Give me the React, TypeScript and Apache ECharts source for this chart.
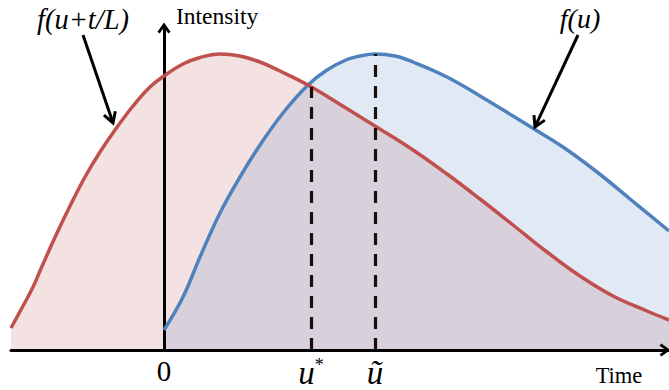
import React, { useEffect, useRef } from "react";
import * as echarts from "echarts";

// f(u + t/L): shifted intensity curve (red)
const redTime = [-1.53, -1.41, -1.31, -1.21, -1.07, -0.94, -0.79, -0.64, -0.49, -0.31, -0.14, 0, 0.19, 0.36, 0.56, 0.76, 0.96, 1.16, 1.44, 1.73, 2.11, 2.49, 2.83, 3.16, 3.49, 3.83, 4.16, 4.49, 4.83, 5.05];
const redIntensity = [0.22, 0.44, 0.63, 0.86, 1.17, 1.44, 1.73, 1.98, 2.2, 2.44, 2.63, 2.74, 2.86, 2.925, 2.96, 2.94, 2.88, 2.79, 2.65, 2.475, 2.24, 2.0, 1.76, 1.51, 1.25, 0.98, 0.74, 0.54, 0.39, 0.3];

// f(u): original intensity curve (blue)
const blueTime = [0, 0.19, 0.36, 0.56, 0.76, 0.96, 1.19, 1.44, 1.63, 1.83, 1.96, 2.11, 2.31, 2.49, 2.83, 3.16, 3.49, 3.71, 3.99, 4.33, 4.66, 5.05];
const blueIntensity = [0.2, 0.53, 0.93, 1.37, 1.73, 2.05, 2.37, 2.65, 2.8, 2.905, 2.94, 2.96, 2.94, 2.88, 2.73, 2.54, 2.34, 2.205, 2.03, 1.78, 1.51, 1.19];

// marked times on the time axis
const tickValues = [0, 1.47, 2.11];
const tickLabels = ["0", "u*", "ũ"];
// heights of the dashed guides (curve value at the marked time)
const guideTimes = [1.47, 2.11];
const guideHeights = [2.63, 2.96];

const xMin = -1.53;
const xMax = 5.05;
const yMin = 0;
const yMax = 3.24;

const RED = "#c0504d";
const BLUE = "#4f81bd";
const FONT = "'Liberation Serif', 'Times New Roman', serif";

const chevron = "path://M6,0 L12,8.4 L10,10 L6,4.2 L2,10 L0,8.4 Z";

function zip(a: number[], b: number[]) {
  return a.map((v, i) => [v, b[i]]);
}

function arrowGraphics(from: number[], tip: number[]) {
  const dx = tip[0] - from[0];
  const dy = tip[1] - from[1];
  const len = Math.sqrt(dx * dx + dy * dy);
  const ux = -dx / len;
  const uy = -dy / len;
  const a = Math.PI / 6;
  const L = 12;
  const r1 = [tip[0] + L * (ux * Math.cos(a) - uy * Math.sin(a)), tip[1] + L * (ux * Math.sin(a) + uy * Math.cos(a))];
  const r2 = [tip[0] + L * (ux * Math.cos(-a) - uy * Math.sin(-a)), tip[1] + L * (ux * Math.sin(-a) + uy * Math.cos(-a))];
  return [
    {
      type: "line",
      shape: { x1: from[0], y1: from[1], x2: tip[0] + ux * 1.5, y2: tip[1] + uy * 1.5 },
      style: { stroke: "#000", lineWidth: 3 },
      z: 20,
    },
    {
      type: "polyline",
      shape: { points: [r1, tip, r2] },
      style: { stroke: "#000", lineWidth: 3, fill: null, lineJoin: "miter" },
      z: 20,
    },
  ];
}

export default function App() {
  const ref = useRef<HTMLDivElement>(null);

  useEffect(() => {
    document.body.style.margin = "0";
    if (!ref.current) return;
    const chart = echarts.init(ref.current, undefined, { renderer: "svg" });

    const option: any = {
      animation: false,
      backgroundColor: "#ffffff",
      grid: { left: 11, right: 0, top: 26, bottom: 40, containLabel: false },
      xAxis: {
        type: "value",
        min: xMin,
        max: xMax,
        z: 3,
        axisLine: {
          show: true,
          onZero: true,
          symbol: ["none", chevron],
          symbolSize: [13, 11],
          symbolOffset: [0, -4],
          lineStyle: { color: "#000", width: 3 },
        },
        axisTick: { show: false },
        splitLine: { show: false },
        axisLabel: {
          show: true,
          customValues: tickValues,
          margin: 6,
          color: "#000",
          formatter: (v: number) => {
            const i = tickValues.indexOf(v);
            const t = i >= 0 ? tickLabels[i] : "";
            if (t === "u*") return "{u|u}{s|*}";
            if (t === "ũ") return "{u|ũ}";
            return "{n|" + t + "}";
          },
          rich: {
            n: { fontFamily: FONT, fontSize: 29, color: "#000" },
            u: { fontFamily: FONT, fontSize: 33, fontStyle: "italic", color: "#000" },
            s: { fontFamily: FONT, fontSize: 18, color: "#000", verticalAlign: "top" },
          },
        },
      },
      yAxis: {
        type: "value",
        min: yMin,
        max: yMax,
        z: 3,
        axisLine: {
          show: true,
          onZero: true,
          symbol: ["none", chevron],
          symbolSize: [13, 11],
          symbolOffset: [0, -2],
          lineStyle: { color: "#000", width: 3 },
        },
        axisTick: { show: false },
        splitLine: { show: false },
        axisLabel: { show: false },
      },
      series: [
        {
          name: "f(u+t/L) area",
          type: "line",
          data: zip(redTime, redIntensity),
          smooth: 0.4,
          showSymbol: false,
          lineStyle: { width: 0, opacity: 0 },
          areaStyle: { color: RED, opacity: 0.17 },
          silent: true,
        },
        {
          name: "f(u) area",
          type: "line",
          data: zip(blueTime, blueIntensity),
          smooth: 0.4,
          showSymbol: false,
          lineStyle: { width: 0, opacity: 0 },
          areaStyle: { color: BLUE, opacity: 0.17 },
          silent: true,
          markLine: {
            silent: true,
            symbol: "none",
            label: { show: false },
            lineStyle: { type: [12, 9], width: 3.2, color: "#1a0f0f" },
            data: guideTimes.map((t, i) => [
              { coord: [t, 0] },
              { coord: [t, guideHeights[i]] },
            ]),
          },
        },
        {
          name: "f(u)",
          type: "line",
          data: zip(blueTime, blueIntensity),
          smooth: 0.4,
          showSymbol: false,
          lineStyle: { width: 3.5, color: BLUE },
          silent: true,
        },
        {
          name: "f(u+t/L)",
          type: "line",
          data: zip(redTime, redIntensity),
          smooth: 0.4,
          showSymbol: false,
          lineStyle: { width: 3.5, color: RED },
          silent: true,
        },
      ],
      graphic: [
        {
          type: "text",
          left: 176,
          top: 4,
          style: { text: "Intensity", fontFamily: FONT, fontSize: 23.5, fill: "#000" },
        },
        {
          type: "text",
          x: 83,
          y: 19,
          style: { text: "f(u+t/L)", fontFamily: FONT, fontSize: 28.5, fontStyle: "italic", fill: "#000", align: "center", verticalAlign: "middle" },
        },
        {
          type: "text",
          x: 580,
          y: 18,
          style: { text: "f(u)", fontFamily: FONT, fontSize: 28, fontStyle: "italic", fill: "#000", align: "center", verticalAlign: "middle" },
        },
        {
          type: "text",
          x: 619,
          y: 375,
          style: { text: "Time", fontFamily: FONT, fontSize: 22.5, fill: "#000", align: "center", verticalAlign: "middle" },
        },
        ...arrowGraphics([83, 35], [113, 123]),
        ...arrowGraphics([578, 35], [535, 127]),
      ],
    };

    chart.setOption(option);
    return () => chart.dispose();
  }, []);

  return <div ref={ref} style={{ width: 669, height: 390 }} />;
}
